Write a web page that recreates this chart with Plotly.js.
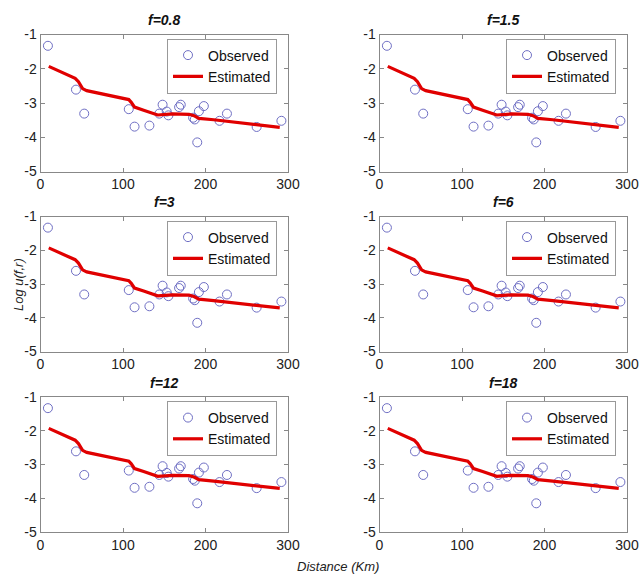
<!DOCTYPE html>
<html><head><meta charset="utf-8">
<script src="https://cdn.plot.ly/plotly-3.0.1.min.js"></script>
<style>html,body{margin:0;padding:0;background:#fff}</style>
</head><body>
<div id="chart" style="width:639px;height:577px"></div>
<script>
// Panel labels (frequency)
const freqLabels = ['f=0.8', 'f=1.5', 'f=3', 'f=6', 'f=12', 'f=18'];
// Observed points (same in each panel)
const obsDistance = [9, 43, 53, 107, 114, 132, 144, 148, 153, 155, 168, 170, 185, 187, 190, 192, 198, 217, 226, 262, 292];
const obsLogU = [-1.33, -2.61, -3.31, -3.18, -3.69, -3.66, -3.31, -3.05, -3.25, -3.36, -3.12, -3.05, -3.43, -3.48, -4.15, -3.24, -3.09, -3.52, -3.31, -3.70, -3.52];
// Estimated curve
const estDistance = [10, 25, 42, 46, 51, 56, 75, 95, 107, 110, 114, 125, 142, 160, 180, 186, 192, 210, 235, 260, 290];
const estLogU = [-1.93, -2.10, -2.28, -2.38, -2.58, -2.64, -2.73, -2.83, -2.90, -2.98, -3.12, -3.21, -3.35, -3.32, -3.33, -3.37, -3.45, -3.49, -3.56, -3.62, -3.71];
// Ticks
const xTickVals = [0, 100, 200, 300];
const xTickText = ['0', '100', '200', '300'];
const yTickVals = [-1, -2, -3, -4, -5];
const yTickText = ['-1', '-2', '-3', '-4', '-5'];
const seriesNames = ['Observed', 'Estimated'];
const xAxisTitle = 'Distance (Km)';
const yAxisTitle = 'Log u(f,r)';

const W = 639, H = 577;
const colPx = [[40.5, 288], [379.5, 627]];
const rowPx = [[34.5, 171.5], [216.5, 351.5], [397, 532]];
const titleYPx = [20, 202, 383];
const px2x = p => p / W;
const px2y = p => 1 - p / H;

const tickFont = {family: 'Liberation Sans, Arial, sans-serif', size: 14, color: '#222'};
const traces = [];
const layout = {
  width: W, height: H,
  margin: {l: 0, r: 0, t: 0, b: 0},
  paper_bgcolor: '#fff', plot_bgcolor: '#fff',
  showlegend: true,
  annotations: []
};

freqLabels.forEach((lab, i) => {
  const r = Math.floor(i / 2), c = i % 2;
  const xa = i === 0 ? 'x' : 'x' + (i + 1);
  const ya = i === 0 ? 'y' : 'y' + (i + 1);
  const lg = i === 0 ? 'legend' : 'legend' + (i + 1);
  const xKey = i === 0 ? 'xaxis' : 'xaxis' + (i + 1);
  const yKey = i === 0 ? 'yaxis' : 'yaxis' + (i + 1);
  layout[xKey] = {
    domain: [px2x(colPx[c][0]), px2x(colPx[c][1])],
    anchor: ya, range: [0, 300],
    tickmode: 'array', tickvals: xTickVals, ticktext: xTickText,
    ticks: 'inside', ticklen: 4, tickcolor: '#888', tickwidth: 1,
    showline: true, linecolor: '#888', linewidth: 1, mirror: 'ticks',
    showgrid: false, zeroline: false, tickfont: tickFont
  };
  layout[yKey] = {
    domain: [px2y(rowPx[r][1]), px2y(rowPx[r][0])],
    anchor: xa, range: [-5, -1],
    tickmode: 'array', tickvals: yTickVals, ticktext: yTickText,
    ticks: 'inside', ticklen: 4, tickcolor: '#888', tickwidth: 1,
    showline: true, linecolor: '#888', linewidth: 1, mirror: 'ticks',
    showgrid: false, zeroline: false, tickfont: tickFont
  };
  layout[lg] = {
    x: px2x(colPx[c][1] - 11), xanchor: 'right',
    y: px2y(rowPx[r][0] + 4), yanchor: 'top',
    bgcolor: '#fff', bordercolor: '#999', borderwidth: 1,
    font: {family: 'Liberation Sans, Arial, sans-serif', size: 14, color: '#111'},
    tracegroupgap: 0, itemwidth: 30
  };
  traces.push({
    type: 'scatter', mode: 'markers', name: seriesNames[0],
    x: obsDistance, y: obsLogU, xaxis: xa, yaxis: ya, legend: lg,
    marker: {symbol: 'circle-open', size: 9, color: '#6f6fc4', line: {width: 1}},
    hoverinfo: 'skip'
  });
  traces.push({
    type: 'scatter', mode: 'lines', name: seriesNames[1],
    x: estDistance, y: estLogU, xaxis: xa, yaxis: ya, legend: lg,
    line: {color: '#e00000', width: 3.2},
    hoverinfo: 'skip'
  });
  layout.annotations.push({
    xref: 'paper', yref: 'paper',
    x: px2x((colPx[c][0] + colPx[c][1]) / 2), y: px2y(titleYPx[r]),
    xanchor: 'center', yanchor: 'middle', showarrow: false,
    text: lab,
    font: {family: 'Liberation Sans, Arial, sans-serif', size: 14, color: '#111', weight: 'bold', style: 'italic'}
  });
});

layout.annotations.push({
  xref: 'paper', yref: 'paper', x: px2x(338), y: px2y(566),
  xanchor: 'center', yanchor: 'middle', showarrow: false,
  text: xAxisTitle,
  font: {family: 'Liberation Sans, Arial, sans-serif', size: 13, color: '#222', style: 'italic'}
});
layout.annotations.push({
  xref: 'paper', yref: 'paper', x: px2x(18), y: px2y(285),
  xanchor: 'center', yanchor: 'middle', showarrow: false, textangle: -90,
  text: yAxisTitle,
  font: {family: 'Liberation Sans, Arial, sans-serif', size: 13, color: '#222', style: 'italic'}
});

Plotly.newPlot('chart', traces, layout, {staticPlot: true, displayModeBar: false});
</script>
</body></html>
